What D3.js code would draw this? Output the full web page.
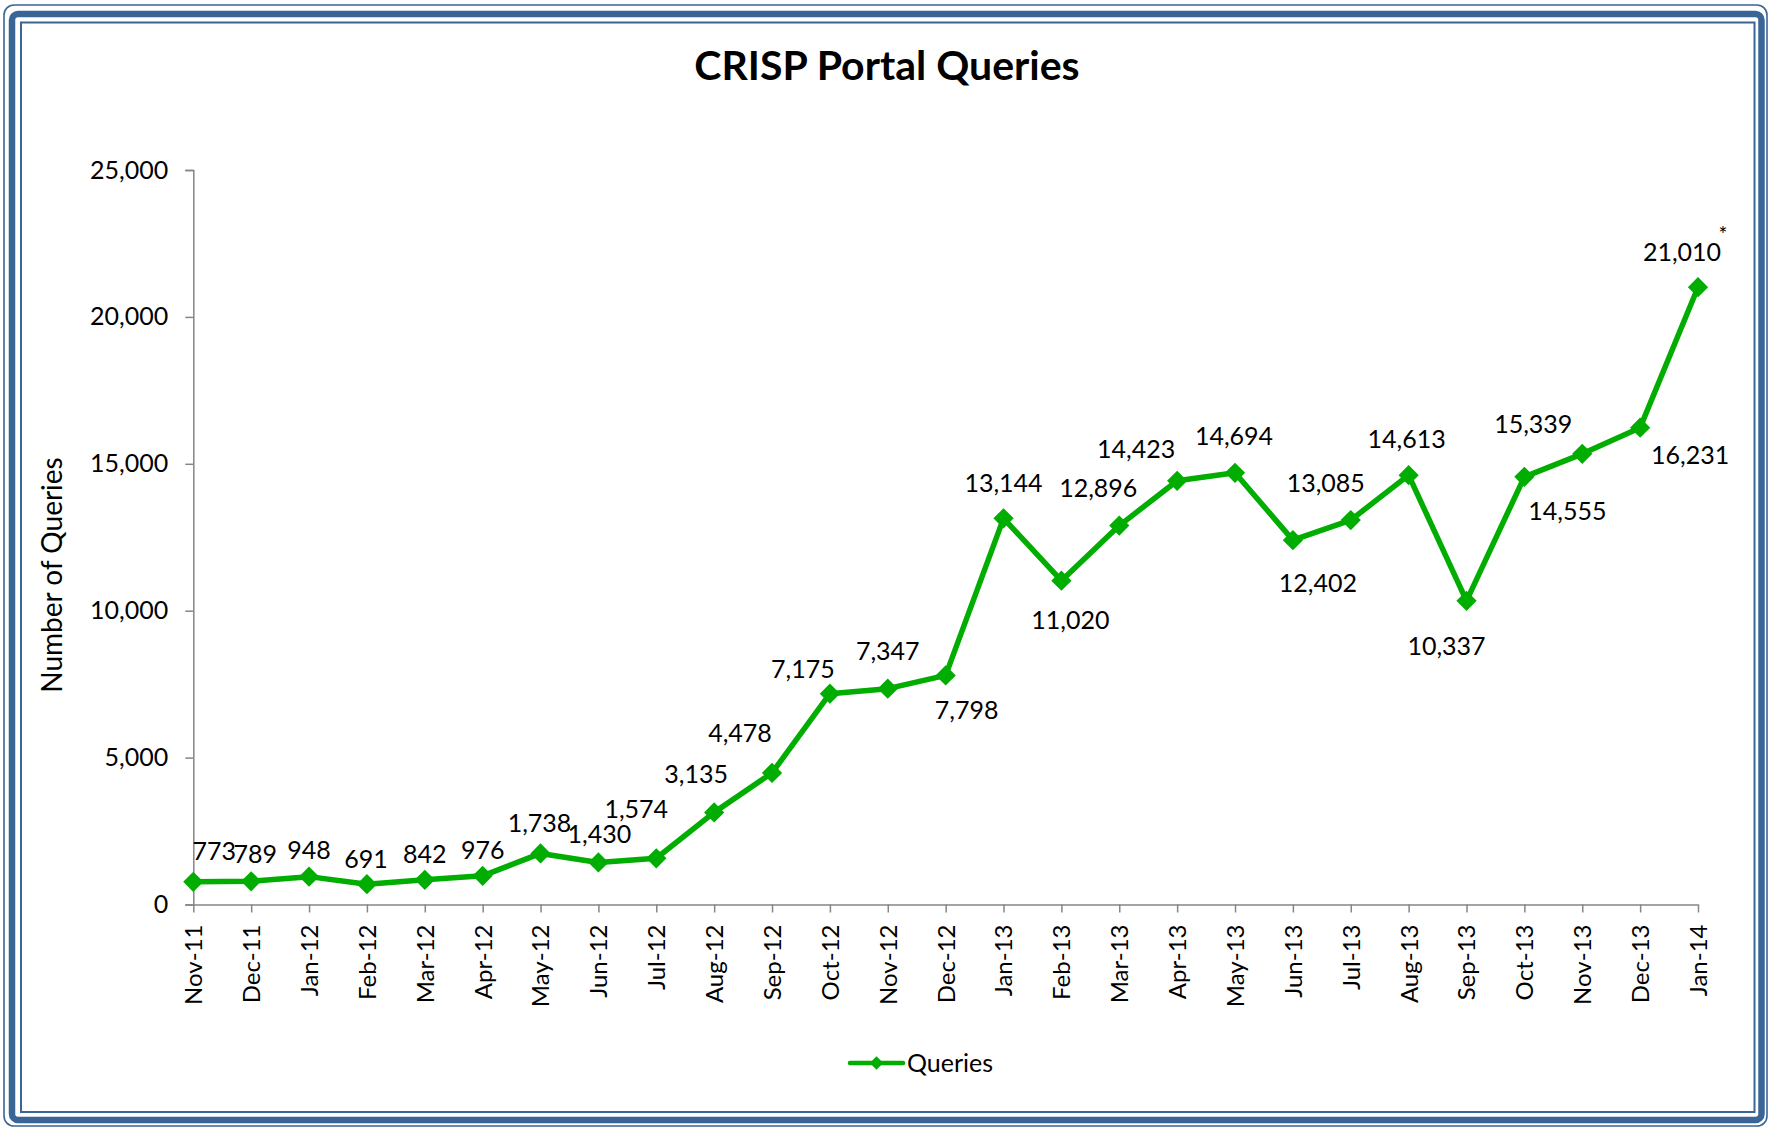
<!DOCTYPE html>
<html>
<head>
<meta charset="utf-8">
<script src="https://cdn.jsdelivr.net/npm/d3@7"></script>
<style>
  body { margin: 0; background: #fff; }
  text { font-family: Lato, "DejaVu Sans", sans-serif; fill: #000; }
</style>
</head>
<body>
<div id="chart"></div>
<script>
// dati
const months = ["Nov-11","Dec-11","Jan-12","Feb-12","Mar-12","Apr-12","May-12","Jun-12","Jul-12",
  "Aug-12","Sep-12","Oct-12","Nov-12","Dec-12","Jan-13","Feb-13","Mar-13","Apr-13","May-13",
  "Jun-13","Jul-13","Aug-13","Sep-13","Oct-13","Nov-13","Dec-13","Jan-14"];
const queries = [773, 789, 948, 691, 842, 976, 1738, 1430, 1574, 3135, 4478, 7175, 7347, 7798,
  13144, 11020, 12896, 14423, 14694, 12402, 13085, 14613, 10337, 14555, 15339, 16231, 21010];
const yTicks = [0, 5000, 10000, 15000, 20000, 25000];
const seriesName = "Queries";
const chartTitle = "CRISP Portal Queries";
const yTitle = "Number of Queries";

// spostamento delle etichette rispetto al punto (come nel grafico originale)
const labelOffsets = [[21,-31],[4,-27],[0,-26],[-1,-25],[0,-26],[0,-26],[-1,-30],[1,-28],[-20,-49],
  [-18,-38],[-32,-40],[-27,-24],[0,-37],[21,35],[0,-35],[9,40],[-21,-37],[-41,-32],[-1,-37],
  [25,43],[-25,-37],[-2,-36],[-20,45],[43,34],[-49,-30],[50,28],[-16,-35]];

const W = 1769, H = 1128;
const green = "#00ad00";
const blue = "#3b6497";
const axisColor = "#868686";

const svg = d3.select("#chart")
  .append("svg")
  .attr("width", W)
  .attr("height", H);

// cornice
svg.append("rect").attr("x", 4).attr("y", 5).attr("width", 1763).attr("height", 1121)
  .attr("rx", 10).attr("fill", "#fff").attr("stroke", blue).attr("stroke-width", 1.6);
svg.append("rect").attr("x", 12).attr("y", 14).attr("width", 1749.5).attr("height", 1106)
  .attr("rx", 6).attr("fill", "none").attr("stroke", blue).attr("stroke-width", 6.5);
svg.append("rect").attr("x", 21).attr("y", 22.5).attr("width", 1733.5).attr("height", 1089.5)
  .attr("fill", "none").attr("stroke", blue).attr("stroke-width", 2);

const xScale = d3.scalePoint().domain(months).range([193.3, 1698]);
const yScale = d3.scaleLinear().domain([0, 25000]).range([904.5, 170]);

svg.append("text")
  .attr("x", 887)
  .attr("y", 80)
  .attr("text-anchor", "middle")
  .style("font-size", "41px")
  .style("font-weight", "bold")
  .text(chartTitle);

// asse y
const yAxis = d3.axisLeft(yScale)
  .tickValues(yTicks)
  .tickSize(8)
  .tickPadding(17)
  .tickFormat(d3.format(","));

const gy = svg.append("g")
  .attr("transform", `translate(${xScale(months[0])},0)`)
  .call(yAxis);
gy.select(".domain").attr("stroke", axisColor).attr("stroke-width", 1.5);
gy.selectAll(".tick line").attr("stroke", axisColor).attr("stroke-width", 1.5);
gy.selectAll(".tick text").style("font-size", "25px").attr("fill", "#000");

// asse x
const xAxis = d3.axisBottom(xScale).tickSize(8).tickSizeOuter(0);
const gx = svg.append("g")
  .attr("transform", `translate(0,${yScale(0)})`)
  .call(xAxis);
gx.select(".domain").attr("stroke", axisColor).attr("stroke-width", 1.5);
gx.selectAll(".tick line").attr("stroke", axisColor).attr("stroke-width", 1.5);
gx.selectAll(".tick text")
  .style("font-size", "24px")
  .attr("fill", "#000")
  .attr("text-anchor", "end")
  .attr("transform", "rotate(-90)")
  .attr("x", -20)
  .attr("y", 0)
  .attr("dy", "0.35em");

svg.append("text")
  .attr("transform", `translate(62,575) rotate(-90)`)
  .attr("text-anchor", "middle")
  .style("font-size", "28px")
  .text(yTitle);

// linea
const line = d3.line()
  .x((d, i) => xScale(months[i]))
  .y(d => yScale(d));

svg.append("path")
  .datum(queries)
  .attr("fill", "none")
  .attr("stroke", green)
  .attr("stroke-width", 5.5)
  .attr("stroke-linejoin", "round")
  .attr("d", line);

const diamond = d3.symbol().type(d3.symbolSquare).size(205);

svg.append("g")
  .selectAll("path")
  .data(queries)
  .enter()
  .append("path")
  .attr("d", diamond)
  .attr("fill", green)
  .attr("transform", (d, i) => `translate(${xScale(months[i])},${yScale(d)}) rotate(45)`);

// etichette dei valori
svg.append("g")
  .selectAll("text")
  .data(queries)
  .enter()
  .append("text")
  .attr("x", (d, i) => xScale(months[i]) + labelOffsets[i][0])
  .attr("y", (d, i) => yScale(d) + labelOffsets[i][1])
  .attr("dy", "0.35em")
  .attr("text-anchor", "middle")
  .style("font-size", "25px")
  .text(d => d3.format(",")(d));

// asterisco sull'ultimo valore
const last = queries.length - 1;
svg.append("text")
  .attr("x", xScale(months[last]) + 25)
  .attr("y", yScale(queries[last]) - 45)
  .attr("text-anchor", "middle")
  .style("font-size", "21px")
  .text("*");

// legenda
const legend = svg.append("g").attr("transform", "translate(850,1063)");
legend.append("line")
  .attr("x1", 0).attr("x2", 53)
  .attr("stroke", green).attr("stroke-width", 4.5).attr("stroke-linecap", "round");
legend.append("path")
  .attr("d", d3.symbol().type(d3.symbolSquare).size(90))
  .attr("fill", green)
  .attr("transform", "translate(26.5,0) rotate(45)");
legend.append("text")
  .attr("x", 57)
  .attr("y", 0)
  .attr("dy", "0.35em")
  .style("font-size", "25px")
  .text(seriesName);
</script>
</body>
</html>
